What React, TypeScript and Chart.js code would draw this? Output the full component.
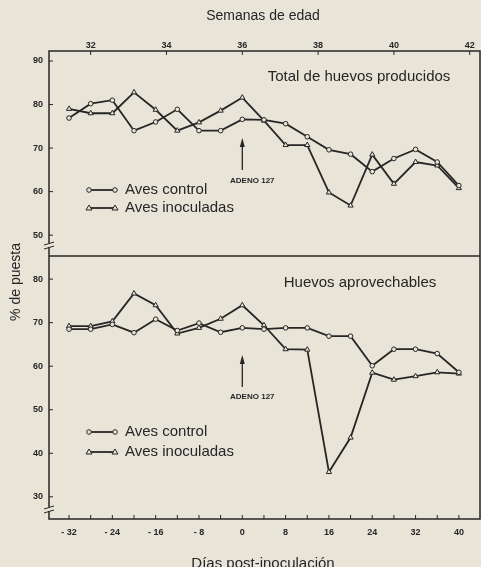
import React, { useEffect, useRef } from 'react';
import { Chart, registerables } from 'chart.js';

Chart.register(...registerables);

// ---- data ----
const days = [-32, -28, -24, -20, -16, -12, -8, -4, 0, 4, 8, 12, 16, 20, 24, 28, 32, 36, 40];
const totalControl = [76.9, 80.2, 81.0, 74.0, 76.0, 78.9, 74.0, 74.0, 76.6, 76.5, 75.6, 72.6, 69.6, 68.6, 64.6, 67.6, 69.7, 66.8, 61.4];
const totalInoculated = [79.0, 78.0, 78.0, 82.8, 78.8, 74.0, 75.9, 78.6, 81.6, 76.3, 70.7, 70.7, 59.8, 56.8, 68.5, 61.8, 66.8, 66.0, 60.8];
const usableControl = [68.5, 68.5, 69.6, 67.7, 70.8, 68.2, 69.9, 67.8, 68.8, 68.5, 68.8, 68.8, 66.9, 66.9, 60.1, 63.9, 63.9, 62.9, 58.6];
const usableInoculated = [69.2, 69.2, 70.3, 76.7, 74.0, 67.5, 68.8, 70.9, 74.0, 69.4, 63.9, 63.8, 35.7, 43.6, 58.5, 56.9, 57.7, 58.6, 58.3];

const dayTicks = [-32, -28, -24, -20, -16, -12, -8, -4, 0, 4, 8, 12, 16, 20, 24, 28, 32, 36, 40];
const dayLabelEvery = 8;
const weekTicks = [32, 34, 36, 38, 40, 42];
const inoculationWeek = 36;
const topYTicks = [50, 60, 70, 80, 90];
const bottomYTicks = [30, 40, 50, 60, 70, 80];

const topTitle = 'Semanas de edad';
const bottomTitle = 'Días post-inoculación';
const yTitle = '% de puesta';
const panelTitles = ['Total de huevos producidos', 'Huevos aprovechables'];
const seriesNames = ['Aves control', 'Aves inoculadas'];
const arrowLabel = 'ADENO 127';

const BG = '#e8e4d8';
const INK = '#262626';
const FONT = '"Liberation Sans", Arial, sans-serif';

const pts = (ys: number[]) => days.map((d, i) => ({ x: d, y: ys[i] }));

function drawMarker(ctx: CanvasRenderingContext2D, style: string, x: number, y: number) {
  ctx.beginPath();
  if (style === 'circle') {
    ctx.arc(x, y, 2.3, 0, Math.PI * 2);
  } else {
    ctx.moveTo(x, y - 3);
    ctx.lineTo(x + 3, y + 2);
    ctx.lineTo(x - 3, y + 2);
    ctx.closePath();
  }
  ctx.fillStyle = BG;
  ctx.fill();
  ctx.lineWidth = 1;
  ctx.strokeStyle = INK;
  ctx.stroke();
}

const decorPlugin = {
  id: 'decor',
  beforeDraw(chart: any) {
    const ctx = chart.ctx;
    ctx.save();
    ctx.fillStyle = BG;
    ctx.fillRect(0, 0, chart.width, chart.height);
    ctx.restore();
  },
  beforeDatasetsDraw(chart: any) {
    const ctx: CanvasRenderingContext2D = chart.ctx;
    const { left, right, top, bottom } = chart.chartArea;
    const { x, x2, yTop, yBot } = chart.scales;
    ctx.save();
    ctx.strokeStyle = INK;
    ctx.lineWidth = 1.5;
    ctx.strokeRect(left, top, right - left, bottom - top);
    // separator between panels
    ctx.beginPath();
    ctx.moveTo(left, yTop.bottom);
    ctx.lineTo(right, yTop.bottom);
    ctx.stroke();
    // tick marks (inward)
    ctx.lineWidth = 1;
    ctx.beginPath();
    x.ticks.forEach((t: any) => {
      const px = x.getPixelForValue(t.value);
      ctx.moveTo(px, bottom);
      ctx.lineTo(px, bottom - 4);
    });
    x2.ticks.forEach((t: any) => {
      const px = x2.getPixelForValue(t.value);
      ctx.moveTo(px, top);
      ctx.lineTo(px, top + 4);
    });
    [yTop, yBot].forEach((s: any) => {
      s.ticks.forEach((t: any) => {
        const py = s.getPixelForValue(t.value);
        ctx.moveTo(left, py);
        ctx.lineTo(left + 4, py);
      });
    });
    ctx.stroke();
    // axis break marks
    ctx.lineWidth = 1;
    [yTop.bottom - 12, yBot.bottom - 11].forEach((yb: number) => {
      ctx.fillStyle = BG;
      ctx.fillRect(left - 2, yb - 1, 4, 4);
      ctx.beginPath();
      ctx.moveTo(left - 5, yb + 1);
      ctx.lineTo(left + 5, yb - 2);
      ctx.moveTo(left - 5, yb + 5);
      ctx.lineTo(left + 5, yb + 2);
      ctx.stroke();
    });
    ctx.restore();
  },
  afterDatasetsDraw(chart: any) {
    const ctx: CanvasRenderingContext2D = chart.ctx;
    const { left } = chart.chartArea;
    const { x, yTop, yBot } = chart.scales;
    ctx.save();
    ctx.fillStyle = INK;
    ctx.strokeStyle = INK;
    // axis titles
    ctx.textAlign = 'center';
    ctx.textBaseline = 'middle';
    ctx.font = `14px ${FONT}`;
    ctx.fillText(topTitle, 263, 16);
    ctx.font = `15px ${FONT}`;
    ctx.textBaseline = 'alphabetic';
    ctx.fillText(bottomTitle, 263, 568);
    ctx.save();
    ctx.translate(16, 282);
    ctx.rotate(-Math.PI / 2);
    ctx.textBaseline = 'middle';
    ctx.font = `14px ${FONT}`;
    ctx.fillText(yTitle, 0, 0);
    ctx.restore();

    // panel titles
    ctx.textBaseline = 'middle';
    ctx.font = `15px ${FONT}`;
    ctx.fillText(panelTitles[0], 359, yTop.top + 26);
    ctx.fillText(panelTitles[1], 360, yBot.top + 27);

    // legends + arrows per panel
    const panels = [
      { legendY: [190, 208], arrowTip: 138, arrowTail: 170, textY: 181 },
      { legendY: [432, 452], arrowTip: 355, arrowTail: 387, textY: 397 },
    ];
    const ax = x.getPixelForValue(0);
    panels.forEach((p) => {
      p.legendY.forEach((ly, i) => {
        const style = i === 0 ? 'circle' : 'triangle';
        ctx.lineWidth = 1.8;
        ctx.strokeStyle = INK;
        ctx.beginPath();
        ctx.moveTo(left + 40, ly);
        ctx.lineTo(left + 66, ly);
        ctx.stroke();
        drawMarker(ctx, style, left + 40, ly);
        drawMarker(ctx, style, left + 66, ly);
        ctx.fillStyle = INK;
        ctx.textAlign = 'left';
        ctx.textBaseline = 'middle';
        ctx.font = `15px ${FONT}`;
        ctx.fillText(seriesNames[i], left + 76, ly);
      });
      // arrow
      ctx.lineWidth = 1.3;
      ctx.beginPath();
      ctx.moveTo(ax, p.arrowTip + 6);
      ctx.lineTo(ax, p.arrowTail);
      ctx.stroke();
      ctx.beginPath();
      ctx.moveTo(ax, p.arrowTip);
      ctx.lineTo(ax + 2.5, p.arrowTip + 9);
      ctx.lineTo(ax - 2.5, p.arrowTip + 9);
      ctx.closePath();
      ctx.fill();
      ctx.textAlign = 'center';
      ctx.font = `bold 8px ${FONT}`;
      ctx.fillText(arrowLabel, ax + 10, p.textY);
    });
    ctx.restore();
  },
};

export default function App() {
  const ref = useRef<HTMLCanvasElement | null>(null);
  useEffect(() => {
    document.body.style.margin = '0';
    document.body.style.background = BG;
    const canvas = ref.current!;
    const lineDs = (label: string, ys: number[], yAxisID: string, style: string) => ({
      label,
      data: pts(ys),
      xAxisID: 'x',
      yAxisID,
      borderColor: INK,
      borderWidth: 1.8,
      pointStyle: style,
      pointRadius: style === 'circle' ? 2.3 : 3,
      pointBackgroundColor: BG,
      pointBorderColor: INK,
      pointBorderWidth: 1,
      tension: 0,
      fill: false,
    });
    const tickFont = { family: FONT, size: 9, weight: 'bold' as const };
    const noGrid = { display: false, drawTicks: false, tickLength: 0 };
    const zeroPad = (s: any) => {
      s.paddingLeft = 0;
      s.paddingRight = 0;
      s.paddingTop = 0;
      s.paddingBottom = 0;
    };
    const chart = new Chart(canvas, {
      type: 'line',
      data: {
        datasets: [
          lineDs(seriesNames[0], totalControl, 'yTop', 'circle'),
          lineDs(seriesNames[1], totalInoculated, 'yTop', 'triangle'),
          lineDs(seriesNames[0], usableControl, 'yBot', 'circle'),
          lineDs(seriesNames[1], usableInoculated, 'yBot', 'triangle'),
        ],
      },
      options: {
        animation: false,
        responsive: false,
        layout: { autoPadding: false, padding: { right: 1, left: 0, top: 0, bottom: 0 } },
        plugins: { legend: { display: false }, tooltip: { enabled: false } },
        scales: {
          x: {
            type: 'linear',
            position: 'bottom',
            min: -35.7,
            max: 43.9,
            grid: noGrid,
            border: { display: false },
            afterBuildTicks: (s: any) => {
              s.ticks = dayTicks.map((v) => ({ value: v }));
            },
            afterFit: (s: any) => {
              s.height = 48;
              zeroPad(s);
            },
            ticks: {
              autoSkip: false,
              maxRotation: 0,
              padding: 8,
              color: INK,
              font: tickFont,
              callback: (v: any) => (Number(v) % dayLabelEvery === 0 ? (Number(v) < 0 ? `- ${Math.abs(Number(v))}` : String(v)) : ''),
            },
          },
          x2: {
            type: 'linear',
            position: 'top',
            min: -35.7,
            max: 43.9,
            grid: noGrid,
            border: { display: false },
            afterBuildTicks: (s: any) => {
              s.ticks = weekTicks.map((w) => ({ value: (w - inoculationWeek) * 7 }));
            },
            afterFit: (s: any) => {
              s.height = 51;
              zeroPad(s);
            },
            ticks: {
              autoSkip: false,
              maxRotation: 0,
              padding: 0,
              color: INK,
              font: tickFont,
              callback: (v: any) => String(inoculationWeek + Number(v) / 7),
            },
          },
          yBot: {
            type: 'linear',
            position: 'left',
            stack: 'panels',
            stackWeight: 60.4,
            min: 24.9,
            max: 85.3,
            grid: noGrid,
            border: { display: false },
            afterBuildTicks: (s: any) => {
              s.ticks = bottomYTicks.map((v) => ({ value: v }));
            },
            afterFit: (s: any) => {
              s.width = 49;
              zeroPad(s);
            },
            ticks: { padding: 6, color: INK, font: tickFont },
          },
          yTop: {
            type: 'linear',
            position: 'left',
            stack: 'panels',
            stackWeight: 47.1,
            min: 45.2,
            max: 92.3,
            grid: noGrid,
            border: { display: false },
            afterBuildTicks: (s: any) => {
              s.ticks = topYTicks.map((v) => ({ value: v }));
            },
            afterFit: (s: any) => {
              s.width = 49;
              zeroPad(s);
            },
            ticks: { padding: 6, color: INK, font: tickFont },
          },
        },
      } as any,
      plugins: [decorPlugin],
    });
    return () => chart.destroy();
  }, []);
  return (
    <div style={{ position: 'absolute', left: 0, top: 0, width: 481, height: 567, background: BG }}>
      <canvas ref={ref} width={481} height={567} style={{ display: 'block', width: 481, height: 567 }} />
    </div>
  );
}
